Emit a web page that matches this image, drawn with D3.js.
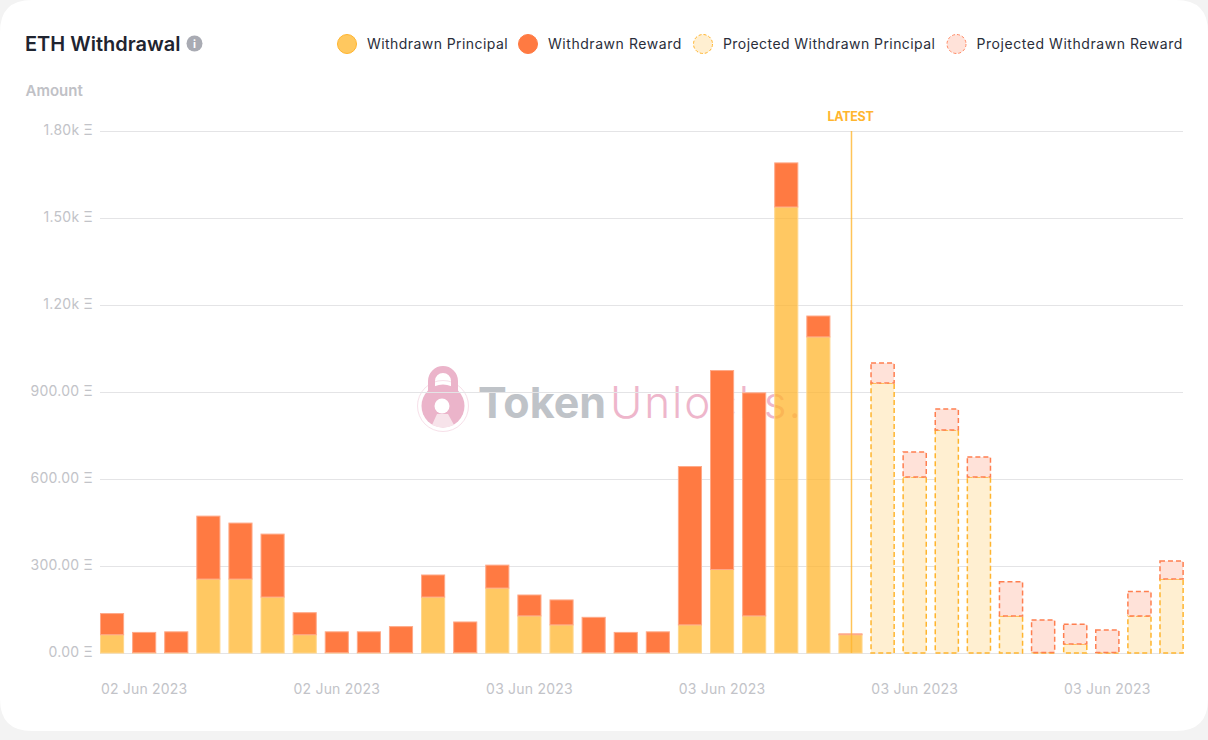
<!DOCTYPE html>
<html><head><meta charset="utf-8">
<script src="https://cdn.jsdelivr.net/npm/d3@7"></script>
<style>
html,body{margin:0;padding:0;background:#f3f3f3;overflow:hidden}
svg{display:block;font-family:Inter,sans-serif}
</style></head><body>
<svg id="c" width="1208" height="740"></svg>
<script>
const slots=["s01","s02","s03","s04","s05","s06","s07","s08","s09","s10","s11","s12","s13","s14","s15","s16","s17","s18","s19","s20","s21","s22","s23","s24","s25","s26","s27","s28","s29","s30","s31","s32","s33","s34"];
const tickLabels={s02:"02 Jun 2023",s08:"02 Jun 2023",s14:"03 Jun 2023",s20:"03 Jun 2023",s26:"03 Jun 2023",s32:"03 Jun 2023"};
const withdrawnPrincipal=[63,1,1,255,255,193,63,1,1,1,193,1,224,128,97,1,1,1,97,288,128,1538,1090,63];
const withdrawnReward=[73,70,72,217,193,217,76,72,72,90,76,106,79,72,86,122,70,72,546,686,769,152,72,3];
const projectedPrincipal=[931,607,769,607,128,2,31,2,128,255];
const projectedReward=[69,86,72,69,118,112,68,77,84,62];
const yTicks=[0,300,600,900,1200,1500,1800];
const legendItems=["Withdrawn Principal","Withdrawn Reward","Projected Withdrawn Principal","Projected Withdrawn Reward"];
const latestSlot="s24";

const svg=d3.select("#c");
const W=1208;
svg.append("path").attr("d",`M0 32 Q0 0 32 0 H${W-32} Q${W} 0 ${W} 32 V699 Q${W} 731 ${W-32} 731 H32 Q0 731 0 699 Z`).attr("fill","#fff");

const x=d3.scaleBand().domain(slots).range([96,1187.6]).paddingInner(0.28).paddingOuter(0.14);
const y=d3.scaleLinear().domain([0,1800]).range([653,131]);
const fmt=v=>v>=1000?(v/1000).toFixed(2)+"k Ξ":v.toFixed(2)+" Ξ";

// title
svg.append("text").attr("x",25).attr("y",50.5).text("ETH Withdrawal").attr("font-size",20).attr("font-weight",600).attr("fill","#1f2430");
const info=svg.append("g").attr("transform","translate(194.5,43.5)");
info.append("circle").attr("r",8).attr("fill","#a9abb3");
info.append("text").attr("text-anchor","middle").attr("y",4).attr("font-size",11).attr("font-weight",700).attr("fill","#fff").text("i");
svg.append("text").attr("x",25.5).attr("y",95.5).text("Amount").attr("font-size",15).attr("font-weight",600).attr("fill","#c0c1c6");

// legend
const legendX=[347,528,703,956.5];
const legendFill=["#ffc85f","#ff7a42","#ffefd1","#ffe2d9"];
const legendStroke=["#ffb52e","#ff7a42","#ffb52e","#ff8a65"];
legendItems.forEach((t,i)=>{
  const g=svg.append("g").attr("transform",`translate(${legendX[i]},44)`);
  g.append("circle").attr("r",9.5).attr("fill",legendFill[i]).attr("stroke",legendStroke[i]).attr("stroke-width",1).attr("stroke-dasharray",i>1?"3,2":null);
  g.append("text").attr("x",20).attr("y",5).attr("font-size",14).attr("fill","#2a2e3a").style("letter-spacing",i==1||i==3?"0.55px":"0.43px").text(t);
});

// watermark
const wm=svg.append("g");
wm.append("circle").attr("cx",443).attr("cy",406).attr("r",25.5).attr("fill","none").attr("stroke","#f7e0e9").attr("stroke-width",1);
wm.append("path").attr("d","M431.5 392 V381 A11.5 11.5 0 0 1 454.5 381 V392").attr("fill","none").attr("stroke","#ebb4ca").attr("stroke-width",7);
wm.append("circle").attr("cx",443).attr("cy",406).attr("r",21.5).attr("fill","#ebb4ca");
wm.append("circle").attr("cx",442).attr("cy",406).attr("r",7.5).attr("fill","#fff");
wm.append("path").attr("d","M432 425 L437 414 H448 L454 425 Q443 430 432 425 Z").attr("fill","#f7e3ea");
wm.append("text").attr("x",478).attr("y",418).attr("font-size",43).attr("font-weight",700).attr("fill","#bfc3c8").text("Token");
wm.append("text").attr("x",610).attr("y",418).attr("font-size",44).attr("font-weight",300).attr("fill","#eeb6cb").style("letter-spacing","1.9px").text("Unlocks.");

// y axis + grid
const ay=svg.append("g").attr("transform","translate(100,0)")
  .call(d3.axisLeft(y).tickValues(yTicks).tickFormat(fmt).tickSize(0).tickPadding(7));
ay.select(".domain").remove();
ay.selectAll("text").attr("font-size",14).attr("fill","#c2c3c8").attr("dy","0.28em").style("font-family","Inter,sans-serif").style("letter-spacing","0.25px");
ay.selectAll(".tick").append("line").attr("x2",1083).attr("stroke","#e4e4e6").attr("stroke-width",1);

// x axis
const ax=svg.append("g").attr("transform","translate(0,653)")
  .call(d3.axisBottom(x).tickValues(Object.keys(tickLabels)).tickFormat(d=>tickLabels[d]).tickSize(0).tickPadding(31));
ax.select(".domain").remove();
ax.selectAll("text").attr("font-size",14).attr("fill","#c2c3c8").style("font-family","Inter,sans-serif").style("letter-spacing","0.2px");

// bars
const rows=slots.map((s,i)=>{
  const past=i<withdrawnPrincipal.length, j=i-withdrawnPrincipal.length;
  return {slot:s,past,principal:past?withdrawnPrincipal[i]:projectedPrincipal[j],reward:past?withdrawnReward[i]:projectedReward[j]};
});
const stack=d3.stack().keys(["principal","reward"])(rows);
const styles={principal:{past:["#ffb52e","#ffd78d",.75],proj:["#ffefd1","#ffb52e",1]},reward:{past:["#ff7a42","#ffa988",1],proj:["#ffe2d9","#ff7f50",1]}};
stack.forEach(layer=>{
  svg.append("g").selectAll("rect").data(layer).join("rect")
    .attr("x",d=>x(d.data.slot)).attr("width",x.bandwidth())
    .attr("y",d=>y(d[1])).attr("height",d=>y(d[0])-y(d[1]))
    .attr("fill",d=>styles[layer.key][d.data.past?"past":"proj"][0])
    .attr("fill-opacity",d=>styles[layer.key][d.data.past?"past":"proj"][2])
    .attr("stroke",d=>styles[layer.key][d.data.past?"past":"proj"][1])
    .attr("stroke-width",d=>d.data.past?1:1.5)
    .attr("stroke-dasharray",d=>d.data.past?null:"5,3");
});

// latest
const lx=x(latestSlot)+x.bandwidth()/2+1;
svg.append("line").attr("x1",lx).attr("x2",lx).attr("y1",y(1800)).attr("y2",y(0)).attr("stroke","#ffb52e").attr("stroke-opacity",.8).attr("stroke-width",1.5);
svg.append("text").attr("x",lx-1).attr("y",121).attr("text-anchor","middle").attr("font-size",12.5).attr("font-weight",700).attr("fill","#ffb52e").style("letter-spacing","-.3px").text("LATEST");
</script>
</body></html>
